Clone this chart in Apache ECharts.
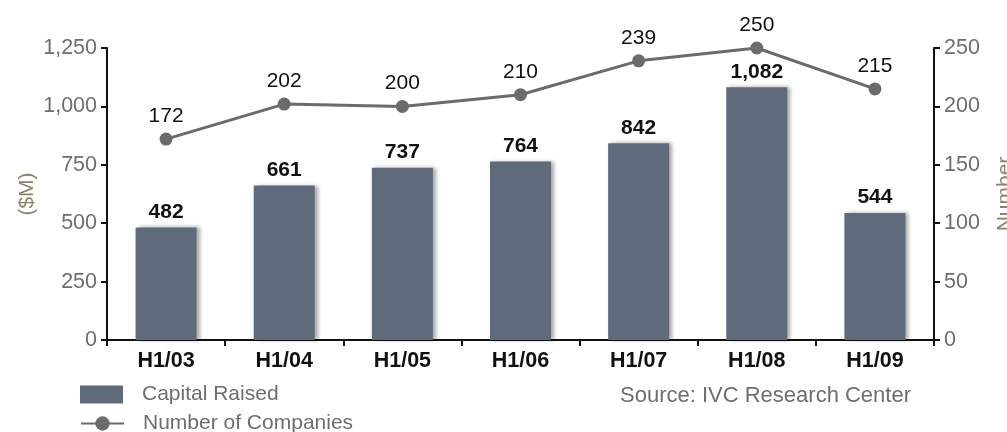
<!DOCTYPE html>
<html><head><meta charset="utf-8">
<script src="https://cdn.jsdelivr.net/npm/echarts@6/dist/echarts.min.js"></script>
<style>html,body{margin:0;padding:0;background:#fff}#c{width:1007px;height:432px}</style>
</head><body><div id="c"></div>
<script>
const categories = ['H1/03','H1/04','H1/05','H1/06','H1/07','H1/08','H1/09'];
const capitalRaised = [482, 661, 737, 764, 842, 1082, 544];
const numberOfCompanies = [172, 202, 200, 210, 239, 250, 215];
const leftTicks = [0, 250, 500, 750, 1000, 1250];
const rightTicks = [0, 50, 100, 150, 200, 250];

const font = 'Liberation Sans, Arial, sans-serif';
const legendText = { fontSize: 21, color: '#6e6e6e', fontFamily: font, padding: [0, 0, 0, 14] };
const chart = echarts.init(document.getElementById('c'));
chart.setOption({
  animation: false,
  textStyle: { fontFamily: font },
  grid: { left: 107, right: 73, top: 48, bottom: 92, outerBoundsMode: 'none', containLabel: false },
  legend: [{
    left: 80, top: 384, padding: 0, itemWidth: 43, itemHeight: 18,
    textStyle: legendText,
    data: [{ name: 'Capital Raised', icon: 'rect' }]
  }, {
    left: 80, top: 413, padding: 0, itemWidth: 43, itemHeight: 18,
    textStyle: legendText,
    data: [{ name: 'Number of Companies' }]
  }],
  graphic: [{
    type: 'text', left: 620, top: 385,
    style: { text: 'Source: IVC Research Center', fontSize: 22, fill: '#6e6e6e', fontFamily: font }
  }],
  xAxis: {
    type: 'category', data: categories,
    axisLine: { lineStyle: { color: '#111', width: 2 } },
    axisTick: { show: true, length: 6, inside: false, lineStyle: { color: '#111', width: 2 } },
    axisLabel: { fontSize: 21.5, fontWeight: 'bold', color: '#111', margin: 10, fontFamily: font }
  },
  yAxis: [{
    type: 'value', min: 0, max: 1250, interval: 250,
    name: '($M)', nameLocation: 'middle', nameGap: 69, nameRotate: 90, nameMoveOverlap: false,
    nameTextStyle: { fontSize: 21, color: '#8a836e', fontFamily: font },
    axisLine: { show: true, lineStyle: { color: '#111', width: 2 } },
    axisTick: { show: true, length: 6, lineStyle: { color: '#111', width: 2 } },
    splitLine: { show: false },
    axisLabel: { fontSize: 21.5, color: '#6e6e6e', margin: 10, fontFamily: font,
      formatter: v => v.toLocaleString('en-US') }
  }, {
    type: 'value', min: 0, max: 250, interval: 50, position: 'right',
    name: 'Number', nameLocation: 'middle', nameGap: 61, nameRotate: 90,
    nameTextStyle: { fontSize: 21, color: '#8a836e', fontFamily: font },
    axisLine: { show: true, lineStyle: { color: '#111', width: 2 } },
    axisTick: { show: true, length: 6, lineStyle: { color: '#111', width: 2 } },
    splitLine: { show: false },
    axisLabel: { fontSize: 21.5, color: '#6e6e6e', margin: 10, fontFamily: font }
  }],
  series: [{
    name: 'Capital Raised', type: 'bar', data: capitalRaised, barWidth: 61,
    itemStyle: { color: '#5f6b7a', shadowColor: 'rgba(0,0,0,0.35)', shadowBlur: 4, shadowOffsetX: 3, shadowOffsetY: 0 },
    label: { show: true, position: 'top', distance: 5, fontSize: 21, fontWeight: 'bold', color: '#111',
      fontFamily: font, formatter: p => p.value.toLocaleString('en-US') }
  }, {
    name: 'Number of Companies', type: 'line', yAxisIndex: 1, data: numberOfCompanies,
    symbol: 'circle', symbolSize: 13,
    lineStyle: { color: '#6b6b6b', width: 3 },
    itemStyle: { color: '#6b6b6b' },
    label: { show: true, position: 'top', distance: 6, fontSize: 21, color: '#111', fontFamily: font }
  }]
});
</script></body></html>
